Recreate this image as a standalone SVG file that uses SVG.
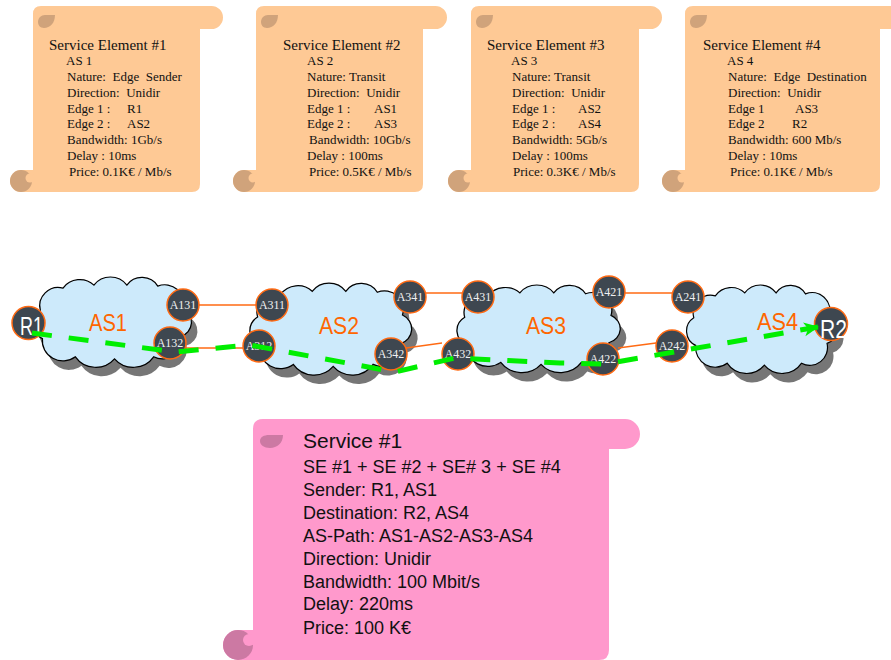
<svg xmlns="http://www.w3.org/2000/svg" width="891" height="660" viewBox="0 0 891 660">
<defs>
<style>
.scroll{fill:#fec995}
.curl{fill:#d0a37b}
.pscroll{fill:#ff99cc}
.pcurl{fill:#cc79a3}
.st{font-family:"Liberation Serif","Times New Roman",serif;font-size:13px;fill:#111;white-space:pre}
.stt{font-family:"Liberation Serif","Times New Roman",serif;font-size:15px;fill:#111;white-space:pre}
.pt{font-family:"Liberation Sans",Arial,sans-serif;font-size:18px;fill:#111;white-space:pre}
.ptt{font-family:"Liberation Sans",Arial,sans-serif;font-size:21px;fill:#111}
.cloud{fill:#cdeafb;stroke:#000;stroke-width:1.2}
.shadow{fill:#767676}
.aslbl{font-family:"Liberation Sans",Arial,sans-serif;font-size:24px;fill:#ff6600}
.node{fill:#3e4750;stroke:#ff6a13;stroke-width:1.5}
.nlbl{font-family:"Liberation Serif","Times New Roman",serif;font-size:12px;fill:#f0f0f0;text-anchor:middle}
.rlbl{font-family:"Liberation Sans",Arial,sans-serif;font-size:25px;fill:#ffffff}
.link{stroke:#ff6a13;stroke-width:1.3;fill:none}
.route{stroke:#00ee00;stroke-width:5;fill:none;stroke-dasharray:20 17}
</style>
<path id="cloudShape" d="M14,62 A16,16 0 0 1 12,34 A18,18 0 0 1 34,12 A20,20 0 0 1 64,9 A20,20 0 0 1 96,9 A18,18 0 0 1 126,10 A18,18 0 0 1 150,32 A15,15 0 0 1 148,60 A18,18 0 0 1 122,80 A24,24 0 0 1 84,82 A24,24 0 0 1 46,80 A20,20 0 0 1 14,62 Z"/>
<marker id="arrow" markerUnits="userSpaceOnUse" markerWidth="16" markerHeight="16" viewBox="0 0 16 16" refX="14" refY="8" orient="auto">
<path d="M0,1 L15,8 L0,15 L4,8 Z" fill="#00ee00"/>
</marker>
</defs>

<!-- Service element scrolls -->
<g id="se1">
<path class="scroll" d="M41,6 H211.5 A11.5,11.5 0 0 1 211.5,29 H200 V184 Q200,192 192,192 H21 A11,11 0 0 1 21,170 H33 V14 Q33,6 41,6 Z"/>
<circle class="curl" cx="21" cy="181" r="11"/>
<circle class="scroll" cx="30" cy="178" r="4.5"/>
<path class="curl" d="M55,15 C55,23 50,28 44,28 C40,28 38,25 38,22 C38,18 41,15 45,15 Z"/>
<text class="stt" x="49" y="50">Service Element #1</text>
<text class="st" x="66" y="65">AS 1</text>
<text class="st" x="67" y="81">Nature:  Edge  Sender</text>
<text class="st" x="67" y="96.5">Direction:  Unidir</text>
<text class="st" x="67" y="112.5">Edge 1 :</text><text class="st" x="127" y="112.5">R1</text>
<text class="st" x="67" y="128">Edge 2 :</text><text class="st" x="127" y="128">AS2</text>
<text class="st" x="67" y="144">Bandwidth: 1Gb/s</text>
<text class="st" x="67" y="159.5">Delay : 10ms</text>
<text class="st" x="69" y="175.5">Price: 0.1K€ / Mb/s</text>
</g>

<g id="se2">
<path class="scroll" d="M264,6 H435.5 A11.5,11.5 0 0 1 435.5,29 H423 V184 Q423,192 415,192 H244 A11,11 0 0 1 244,170 H256 V14 Q256,6 264,6 Z"/>
<circle class="curl" cx="244" cy="181" r="11"/>
<circle class="scroll" cx="253" cy="178" r="4.5"/>
<path class="curl" transform="translate(223,0)" d="M55,15 C55,23 50,28 44,28 C40,28 38,25 38,22 C38,18 41,15 45,15 Z"/>
<text class="stt" x="283" y="50">Service Element #2</text>
<text class="st" x="307" y="65">AS 2</text>
<text class="st" x="307" y="81">Nature: Transit</text>
<text class="st" x="307" y="96.5">Direction:  Unidir</text>
<text class="st" x="307" y="112.5">Edge 1 :</text><text class="st" x="374" y="112.5">AS1</text>
<text class="st" x="307" y="128">Edge 2 :</text><text class="st" x="374" y="128">AS3</text>
<text class="st" x="309" y="144">Bandwidth: 10Gb/s</text>
<text class="st" x="307" y="159.5">Delay : 100ms</text>
<text class="st" x="309" y="175.5">Price: 0.5K€ / Mb/s</text>
</g>

<g id="se3">
<path class="scroll" d="M479,6 H650.5 A11.5,11.5 0 0 1 650.5,29 H639 V184 Q639,192 631,192 H459 A11,11 0 0 1 459,170 H471 V14 Q471,6 479,6 Z"/>
<circle class="curl" cx="459" cy="181" r="11"/>
<circle class="scroll" cx="468" cy="178" r="4.5"/>
<path class="curl" transform="translate(438,0)" d="M55,15 C55,23 50,28 44,28 C40,28 38,25 38,22 C38,18 41,15 45,15 Z"/>
<text class="stt" x="487" y="50">Service Element #3</text>
<text class="st" x="511" y="65">AS 3</text>
<text class="st" x="512" y="81">Nature: Transit</text>
<text class="st" x="512" y="96.5">Direction:  Unidir</text>
<text class="st" x="512" y="112.5">Edge 1 :</text><text class="st" x="578" y="112.5">AS2</text>
<text class="st" x="512" y="128">Edge 2 :</text><text class="st" x="578" y="128">AS4</text>
<text class="st" x="512" y="144">Bandwidth: 5Gb/s</text>
<text class="st" x="512" y="159.5">Delay : 100ms</text>
<text class="st" x="513" y="175.5">Price: 0.3K€ / Mb/s</text>
</g>

<g id="se4">
<path class="scroll" d="M693,6 H905 V29 H880 V184 Q880,192 872,192 H673 A11,11 0 0 1 673,170 H685 V14 Q685,6 693,6 Z"/>
<circle class="curl" cx="673" cy="181" r="11"/>
<circle class="scroll" cx="682" cy="178" r="4.5"/>
<path class="curl" transform="translate(652,0)" d="M55,15 C55,23 50,28 44,28 C40,28 38,25 38,22 C38,18 41,15 45,15 Z"/>
<text class="stt" x="703" y="50">Service Element #4</text>
<text class="st" x="727" y="65">AS 4</text>
<text class="st" x="728" y="81">Nature:  Edge  Destination</text>
<text class="st" x="728" y="96.5">Direction:  Unidir</text>
<text class="st" x="728" y="112.5">Edge 1</text><text class="st" x="795" y="112.5">AS3</text>
<text class="st" x="728" y="128">Edge 2</text><text class="st" x="792" y="128">R2</text>
<text class="st" x="728" y="144">Bandwidth: 600 Mb/s</text>
<text class="st" x="728" y="159.5">Delay : 10ms</text>
<text class="st" x="730" y="175.5">Price: 0.1K€ / Mb/s</text>
</g>

<!-- Clouds (autonomous systems) -->
<g id="as1">
<use href="#cloudShape" class="shadow" transform="translate(34,285) scale(1.03,1.01)"/>
<use href="#cloudShape" class="cloud" vector-effect="non-scaling-stroke" transform="translate(28,276) scale(1.03,1.01)"/>
<text class="aslbl" x="89" y="331" textLength="38" lengthAdjust="spacingAndGlyphs">AS1</text>
</g>
<g id="as2">
<use href="#cloudShape" class="shadow" transform="translate(251,291) scale(1.05,1.03)"/>
<use href="#cloudShape" class="cloud" transform="translate(245,282) scale(1.05,1.03)"/>
<text class="aslbl" x="319" y="334" textLength="40" lengthAdjust="spacingAndGlyphs">AS2</text>
</g>
<g id="as3">
<use href="#cloudShape" class="shadow" transform="translate(458,293) scale(1.06,0.98)"/>
<use href="#cloudShape" class="cloud" transform="translate(452,284) scale(1.06,0.98)"/>
<text class="aslbl" x="526" y="334" textLength="40" lengthAdjust="spacingAndGlyphs">AS3</text>
</g>
<g id="as4">
<use href="#cloudShape" class="shadow" transform="translate(688,293) scale(0.98,0.99)"/>
<use href="#cloudShape" class="cloud" transform="translate(682,284) scale(0.98,0.99)"/>
<text class="aslbl" x="757" y="330" textLength="41" lengthAdjust="spacingAndGlyphs">AS4</text>
</g>

<!-- Routers -->
<g id="R1"><circle class="node" cx="28.5" cy="323" r="16.5"/><text class="rlbl" x="20" y="335" textLength="23" lengthAdjust="spacingAndGlyphs">R1</text></g>
<g id="A131"><circle class="node" cx="183" cy="305" r="16"/><text class="nlbl" x="183" y="309">A131</text></g>
<g id="A132"><circle class="node" cx="170" cy="343" r="16"/><text class="nlbl" x="170" y="347">A132</text></g>
<g id="A311"><circle class="node" cx="272" cy="305" r="16"/><text class="nlbl" x="272" y="309">A311</text></g>
<g id="A312"><circle class="node" cx="259" cy="346" r="16"/><text class="nlbl" x="259" y="350">A312</text></g>
<g id="A341"><circle class="node" cx="410" cy="297" r="16"/><text class="nlbl" x="410" y="301">A341</text></g>
<g id="A342"><circle class="node" cx="391" cy="354" r="16"/><text class="nlbl" x="391" y="358">A342</text></g>
<g id="A431"><circle class="node" cx="478" cy="297" r="16"/><text class="nlbl" x="478" y="301">A431</text></g>
<g id="A432"><circle class="node" cx="458" cy="354" r="16"/><text class="nlbl" x="458" y="358">A432</text></g>
<g id="A421"><circle class="node" cx="609" cy="292" r="16"/><text class="nlbl" x="609" y="296">A421</text></g>
<g id="A422"><circle class="node" cx="603" cy="359" r="16"/><text class="nlbl" x="603" y="363">A422</text></g>
<g id="A241"><circle class="node" cx="688" cy="297" r="16"/><text class="nlbl" x="688" y="301">A241</text></g>
<g id="A242"><circle class="node" cx="672" cy="346" r="16"/><text class="nlbl" x="672" y="350">A242</text></g>
<g id="R2"><circle class="node" cx="831" cy="324" r="16.5"/><text class="rlbl" x="820" y="338" textLength="27" lengthAdjust="spacingAndGlyphs">R2</text></g>

<!-- Connectors -->
<g id="connectors">
<line class="link" x1="198" y1="305" x2="256" y2="305"/>
<line class="link" x1="186" y1="348" x2="243" y2="348"/>
<line class="link" x1="426" y1="293" x2="462" y2="293"/>
<line class="link" x1="406" y1="348" x2="442" y2="343"/>
<line class="link" x1="625" y1="293" x2="672" y2="293"/>
<line class="link" x1="618" y1="348" x2="656" y2="343"/>
<polyline class="route" marker-end="url(#arrow)" points="32,333 175,352 250,345 395,372 455,358 560,363 605,364 818,327"/>
</g>

<!-- Service summary scroll -->
<g id="service1">
<path class="pscroll" d="M263,419 H625 A15,15 0 0 1 625,449 H609 V650 Q609,660 599,660 H238 A15,15 0 0 1 238,630 H253 V429 Q253,419 263,419 Z"/>
<circle class="pcurl" cx="238" cy="645" r="15"/>
<circle class="pscroll" cx="249" cy="640" r="6"/>
<path class="pcurl" d="M283,435 C283,443 277,448 270,448 C264,448 260,445 260,441 C260,437 264,435 269,435 Z"/>
<text class="ptt" x="303" y="448">Service #1</text>
<text class="pt" x="303" y="473">SE #1 + SE #2 + SE# 3 + SE #4</text>
<text class="pt" x="303" y="496">Sender: R1, AS1</text>
<text class="pt" x="303" y="519">Destination: R2, AS4</text>
<text class="pt" x="303" y="541.5">AS-Path: AS1-AS2-AS3-AS4</text>
<text class="pt" x="303" y="565">Direction: Unidir</text>
<text class="pt" x="303" y="588">Bandwidth: 100 Mbit/s</text>
<text class="pt" x="303" y="610">Delay: 220ms</text>
<text class="pt" x="303" y="634">Price: 100 K€</text>
</g>
</svg>
